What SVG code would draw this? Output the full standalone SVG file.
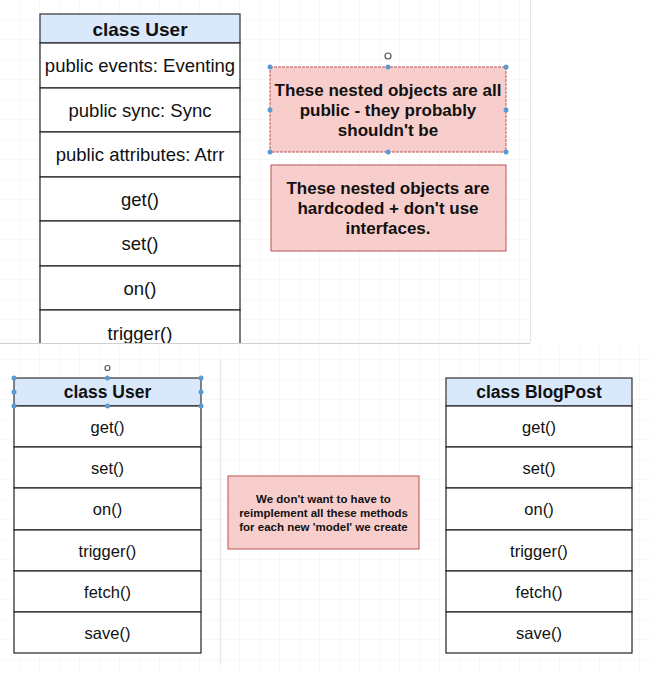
<svg xmlns="http://www.w3.org/2000/svg" width="652" height="675" viewBox="0 0 652 675">
<style>
.hdr{fill:#dae8fc;stroke:#333;stroke-width:1.2}
.row{fill:#fff;stroke:#222;stroke-width:1.2}
.note{fill:#f8cecc;stroke:#b85450;stroke-width:1}
.t{font-family:"Liberation Sans",Arial,sans-serif;fill:#111;text-anchor:middle}
.b{font-weight:bold}
.h{fill:#5b9bd5}
.rot{fill:none;stroke:#555;stroke-width:1.2}
</style>
<defs>
<pattern id="grid" width="20" height="20" patternUnits="userSpaceOnUse">
<path d="M20 0V20M0 20H20" fill="none" stroke="#f0f0f0" stroke-width="1"/>
</pattern>
<clipPath id="topclip"><rect x="0" y="0" width="530" height="343"/></clipPath>
</defs>
<rect width="652" height="675" fill="#fff"/>
<rect x="0" y="0" width="530" height="343" fill="url(#grid)"/>
<rect x="0" y="346" width="652" height="329" fill="url(#grid)"/>
<line x1="0" y1="343.5" x2="530" y2="343.5" stroke="#d0d0d0"/>
<line x1="530.5" y1="0" x2="530.5" y2="343" stroke="#e6e6e6"/>
<line x1="220.5" y1="360" x2="220.5" y2="665" stroke="#e6e6e6"/>

<g id="top-user" clip-path="url(#topclip)">
<rect class="hdr" x="40" y="14" width="200" height="29"/>
<rect class="row" x="40" y="43" width="200" height="45"/>
<rect class="row" x="40" y="88" width="200" height="44"/>
<rect class="row" x="40" y="132" width="200" height="45"/>
<rect class="row" x="40" y="177" width="200" height="44"/>
<rect class="row" x="40" y="221" width="200" height="45"/>
<rect class="row" x="40" y="266" width="200" height="44"/>
<rect class="row" x="40" y="310" width="200" height="45"/>
<text class="t b" x="140" y="36" font-size="19">class User</text>
<text class="t" x="140" y="72" font-size="18.5">public events: Eventing</text>
<text class="t" x="140" y="116.5" font-size="18.5">public sync: Sync</text>
<text class="t" x="140" y="161" font-size="18.5">public attributes: Atrr</text>
<text class="t" x="140" y="205.5" font-size="18.5">get()</text>
<text class="t" x="140" y="250" font-size="18.5">set()</text>
<text class="t" x="140" y="294.5" font-size="18.5">on()</text>
<text class="t" x="140" y="340" font-size="18.5">trigger()</text>
</g>

<g id="note-public">
<rect class="note" x="270" y="67" width="236" height="85" stroke="#9a7a7a" stroke-dasharray="3 1"/>
<text class="t b" x="388" y="96" font-size="17">These nested objects are all</text>
<text class="t b" x="388" y="116" font-size="17">public - they probably</text>
<text class="t b" x="388" y="136" font-size="17">shouldn't be</text>
<g class="h">
<circle cx="270" cy="67" r="2.5"/><circle cx="388" cy="67" r="2.5"/><circle cx="506" cy="67" r="2.5"/>
<circle cx="270" cy="110" r="2.5"/><circle cx="506" cy="110" r="2.5"/>
<circle cx="270" cy="152" r="2.5"/><circle cx="388" cy="152" r="2.5"/><circle cx="506" cy="152" r="2.5"/>
</g>
<circle class="rot" cx="388" cy="56" r="3"/>
</g>

<g id="note-hardcoded">
<rect class="note" x="271" y="165" width="235" height="86"/>
<text class="t b" x="388" y="194" font-size="17">These nested objects are</text>
<text class="t b" x="388" y="214" font-size="17">hardcoded + don't use</text>
<text class="t b" x="388" y="234" font-size="17">interfaces.</text>
</g>

<g id="bottom-user">
<rect class="hdr" x="14" y="378" width="187" height="28"/>
<rect class="row" x="14" y="406" width="187" height="41"/>
<rect class="row" x="14" y="447" width="187" height="41"/>
<rect class="row" x="14" y="488" width="187" height="42"/>
<rect class="row" x="14" y="530" width="187" height="41"/>
<rect class="row" x="14" y="571" width="187" height="41"/>
<rect class="row" x="14" y="612" width="187" height="41"/>
<text class="t b" x="107.5" y="398" font-size="17.5">class User</text>
<text class="t" x="107.5" y="432.5" font-size="16.5">get()</text>
<text class="t" x="107.5" y="473.5" font-size="16.5">set()</text>
<text class="t" x="107.5" y="515" font-size="16.5">on()</text>
<text class="t" x="107.5" y="556.5" font-size="16.5">trigger()</text>
<text class="t" x="107.5" y="597.5" font-size="16.5">fetch()</text>
<text class="t" x="107.5" y="638.5" font-size="16.5">save()</text>
<g class="h">
<circle cx="14" cy="378" r="2.5"/><circle cx="107.5" cy="378" r="2.5"/><circle cx="201" cy="378" r="2.5"/>
<circle cx="14" cy="392" r="2.5"/><circle cx="201" cy="392" r="2.5"/>
<circle cx="14" cy="406" r="2.5"/><circle cx="107.5" cy="406" r="2.5"/><circle cx="201" cy="406" r="2.5"/>
</g>
<circle class="rot" cx="107.5" cy="368" r="2.5"/>
</g>

<g id="note-reimplement">
<rect class="note" x="228" y="476" width="191" height="73"/>
<text class="t b" x="323.5" y="503" font-size="11.5">We don't want to have to</text>
<text class="t b" x="323.5" y="517" font-size="11.5">reimplement all these methods</text>
<text class="t b" x="323.5" y="531" font-size="11.5">for each new 'model' we create</text>
</g>

<g id="blogpost">
<rect class="hdr" x="446" y="378" width="186" height="28"/>
<rect class="row" x="446" y="406" width="186" height="41"/>
<rect class="row" x="446" y="447" width="186" height="41"/>
<rect class="row" x="446" y="488" width="186" height="42"/>
<rect class="row" x="446" y="530" width="186" height="41"/>
<rect class="row" x="446" y="571" width="186" height="41"/>
<rect class="row" x="446" y="612" width="186" height="41"/>
<text class="t b" x="539" y="398" font-size="17.5">class BlogPost</text>
<text class="t" x="539" y="432.5" font-size="16.5">get()</text>
<text class="t" x="539" y="473.5" font-size="16.5">set()</text>
<text class="t" x="539" y="515" font-size="16.5">on()</text>
<text class="t" x="539" y="556.5" font-size="16.5">trigger()</text>
<text class="t" x="539" y="597.5" font-size="16.5">fetch()</text>
<text class="t" x="539" y="638.5" font-size="16.5">save()</text>
</g>

<g id="connectors"></g>
</svg>
